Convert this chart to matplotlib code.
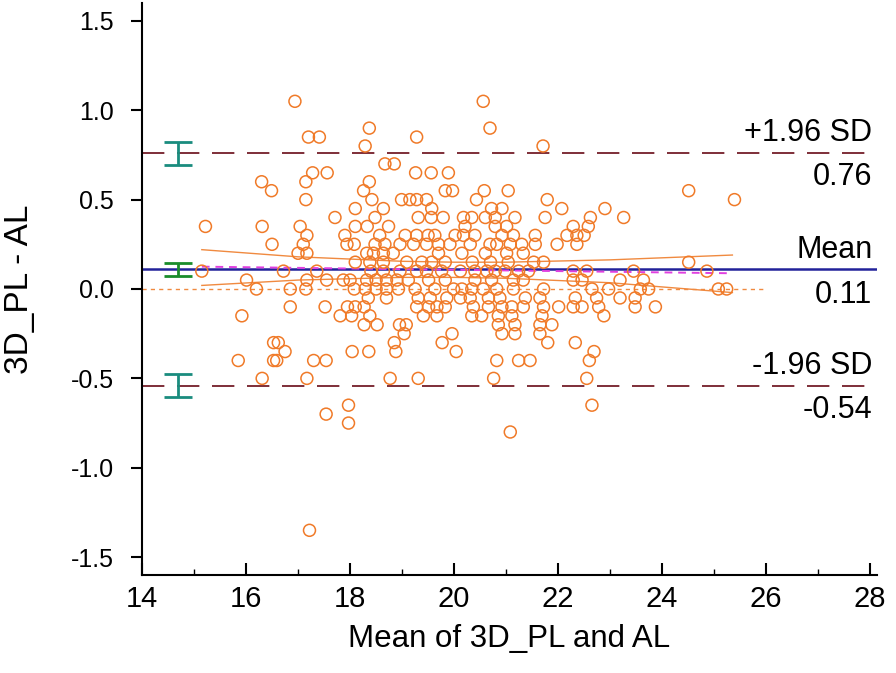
import numpy as np
import matplotlib
matplotlib.use("Agg")
import matplotlib.pyplot as plt

plt.rcParams['font.family'] = ['Liberation Sans', 'DejaVu Sans']

# Bland-Altman: difference levels (3D_PL - AL) and the means found at each level
diff_levels = [1.05, 0.9, 0.85, 0.8, 0.7, 0.65, 0.6, 0.55, 0.5, 0.45, 0.4, 0.35, 0.3,
               0.25, 0.2, 0.15, 0.1, 0.05, 0.0, -0.05, -0.1, -0.15, -0.2, -0.25,
               -0.3, -0.35, -0.4, -0.5, -0.65, -0.7, -0.75, -0.8, -1.35]
means_at_level = [
    [16.94, 20.56],
    [18.37, 20.69],
    [17.20, 17.41, 19.28],
    [18.29, 21.71],
    [18.67, 18.85],
    [17.28, 17.56, 19.26, 19.56, 19.89],
    [16.30, 17.15, 18.37],
    [16.49, 18.26, 19.83, 19.97, 20.58, 21.04, 24.51],
    [17.15, 18.42, 18.99, 19.15, 19.28, 19.47, 20.43, 21.79, 25.39],
    [18.10, 18.64, 19.57, 20.72, 20.92, 22.07, 22.90],
    [17.71, 18.48, 19.31, 19.56, 19.79, 20.18, 20.34, 20.60, 20.79, 21.17, 21.75,
     22.62, 23.26],
    [15.22, 16.31, 17.04, 18.10, 18.33, 18.74, 20.21, 20.79, 21.01, 22.29, 22.58],
    [17.17, 17.90, 18.57, 19.06, 19.28, 19.50, 19.63, 20.02, 20.18, 20.40, 20.92,
     21.14, 21.56, 22.17, 22.36, 22.50],
    [16.50, 17.10, 17.94, 18.08, 18.48, 18.67, 18.96, 19.22, 19.47, 19.70, 19.92,
     20.31, 20.69, 20.82, 21.08, 21.30, 21.56, 21.98, 22.36],
    [17.00, 17.17, 18.32, 18.45, 18.64, 18.83, 19.70, 20.15, 20.60, 21.01, 21.33],
    [18.10, 18.38, 18.64, 19.09, 19.38, 19.57, 19.83, 20.35, 20.70, 21.04, 21.53,
     21.72, 24.51],
    [15.15, 16.72, 17.36, 18.40, 18.64, 18.96, 19.28, 19.47, 19.76, 20.12, 20.40,
     20.63, 20.79, 20.98, 21.24, 21.43, 22.29, 22.55, 23.45, 24.86],
    [16.01, 17.17, 17.55, 17.87, 18.00, 18.32, 18.50, 18.70, 18.90, 19.12, 19.51,
     19.83, 20.40, 20.72, 21.14, 21.33, 22.29, 22.46, 23.19, 23.64],
    [16.20, 16.85, 17.15, 18.08, 18.29, 18.50, 18.70, 18.93, 19.25, 19.63, 19.99,
     20.15, 20.34, 20.56, 20.82, 21.14, 21.72, 22.65, 22.97, 23.58, 23.74, 25.08,
     25.24],
    [18.35, 18.70, 19.31, 19.54, 19.86, 20.12, 20.31, 20.66, 20.88, 21.37, 21.65,
     22.33, 22.74, 23.19, 23.48],
    [16.85, 17.52, 17.95, 18.10, 18.27, 19.28, 19.51, 19.67, 19.83, 20.37, 20.66,
     20.92, 21.11, 21.33, 21.72, 22.01, 22.29, 22.46, 22.78, 23.48, 23.87],
    [15.92, 17.81, 18.03, 18.38, 19.41, 19.67, 20.34, 20.53, 20.85, 21.11, 21.69,
     22.88],
    [18.27, 18.52, 18.95, 19.08, 20.85, 21.17, 21.65, 21.88],
    [19.04, 19.96, 20.92, 21.17, 21.65],
    [16.53, 16.62, 18.85, 19.77, 21.80, 22.33],
    [16.75, 18.04, 18.36, 18.88, 20.04, 22.69],
    [15.85, 16.53, 16.59, 17.30, 17.54, 20.82, 21.24, 21.46, 22.60],
    [16.31, 17.17, 18.77, 19.31, 20.76, 22.55],
    [17.97, 22.65],
    [17.54],
    [17.97],
    [21.08],
    [17.22],
]

# limits of agreement
mean_diff = 0.11
upper_loa = 0.76
lower_loa = -0.54
ci_half_loa = 0.065
ci_half_mean = 0.035

# regression line and its confidence band
reg_x = [15.15, 25.35]
reg_y = [0.125, 0.088]
band_x = [15.15, 17.0, 19.0, 20.0, 21.0, 23.0, 25.35]
band_hi = [0.22, 0.18, 0.155, 0.15, 0.15, 0.163, 0.19]
band_lo = [0.02, 0.05, 0.065, 0.065, 0.06, 0.035, -0.02]

x_vals = []
y_vals = []
for d, xs in zip(diff_levels, means_at_level):
    x_vals += xs
    y_vals += [d] * len(xs)

fig = plt.figure(figsize=(8.96, 6.73), dpi=100)
ax = fig.add_axes([142 / 896, 98 / 673, 735 / 896, 572 / 673])
ax.set_xlim(14, 28.13)
ax.set_ylim(-1.6, 1.6)

# zero line
ax.plot([14, 26.0], [0, 0], color='#f08a40', lw=1.0, dashes=(3, 3))
# mean and limits of agreement
ax.axhline(mean_diff, color='#22229a', lw=1.8)
for v in (upper_loa, lower_loa):
    ax.axhline(v, color='#7e2e38', lw=1.4, dashes=(11.5, 6.5))

# regression band and line
ax.plot(band_x, band_hi, color='#f08a40', lw=1.0)
ax.plot(band_x, band_lo, color='#f08a40', lw=1.0)
ax.plot(reg_x, reg_y, color='#e040e0', lw=1.4, dashes=(4, 3))

ax.scatter(x_vals, y_vals, s=74, facecolors='none', edgecolors='#f07a28',
           linewidths=1.1, zorder=3)

# confidence intervals of mean and limits
ci_x = 14.7
for c, h, col in [(upper_loa, ci_half_loa, '#1a8c7e'),
                  (mean_diff, ci_half_mean, '#1a8c2a'),
                  (lower_loa, ci_half_loa, '#1a8c7e')]:
    ax.errorbar([ci_x], [c], yerr=[[h], [h]], fmt='none', ecolor=col,
                elinewidth=2, capsize=10, capthick=2, zorder=4)

# labels on the right
tx = 28.04
for v, top, bottom, up, down in [(upper_loa, '+1.96 SD', '0.76', 8.5, -6.5),
                                 (mean_diff, 'Mean', '0.11', 8.0, -8.0),
                                 (lower_loa, '-1.96 SD', '-0.54', 8.5, -6.5)]:
    ax.annotate(top, (tx, v), xytext=(0, up), textcoords='offset points',
                ha='right', va='baseline', fontsize=22)
    ax.annotate(bottom, (tx, v), xytext=(0, down), textcoords='offset points',
                ha='right', va='top', fontsize=22)

ax.set_xticks(np.arange(14, 29, 2))
ax.set_xticks(np.arange(15, 28, 2), minor=True)
ax.set_yticks([-1.5, -1.0, -0.5, 0.0, 0.5, 1.0, 1.5])
ax.set_yticklabels(['-1.5', '-1.0', '-0.5', '0.0', '0.5', '1.0', '1.5'])
ax.tick_params(axis='x', which='major', direction='in', length=9, width=1.5,
               labelsize=21, pad=7)
ax.tick_params(axis='x', which='minor', direction='in', length=4, width=1)
ax.tick_params(axis='y', direction='out', length=8, width=1.5, labelsize=18, pad=12)

for s in ('top', 'right'):
    ax.spines[s].set_visible(False)
for s in ('left', 'bottom'):
    ax.spines[s].set_linewidth(1.5)

ax.set_xlabel('Mean of 3D_PL and AL', fontsize=22.5, labelpad=8)
ax.set_ylabel('3D_PL - AL', fontsize=24)
ax.yaxis.set_label_coords(-0.146, 0.5)

fig.savefig('out.png', dpi=100)
